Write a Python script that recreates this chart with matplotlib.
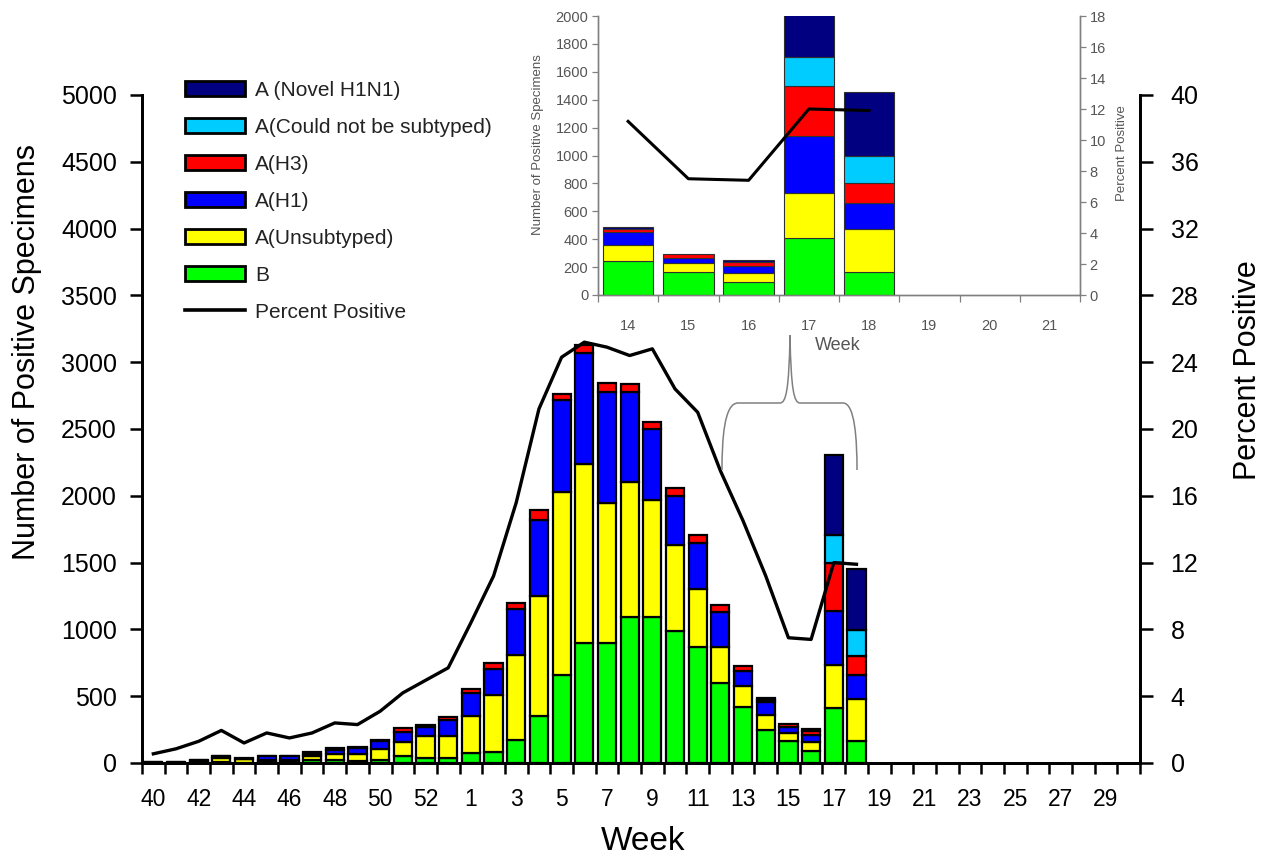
import numpy as np
import matplotlib
matplotlib.use("Agg")
import matplotlib.pyplot as plt
from matplotlib.patches import Patch, PathPatch
from matplotlib.lines import Line2D
from matplotlib.path import Path

plt.rcParams["font.family"] = ["Liberation Sans", "DejaVu Sans"]

# Weeks 40-53 of 2008, then weeks 1-30 of 2009
weeks = list(range(40, 54)) + list(range(1, 31))

# Number of positive specimens, weeks 40 .. 18 (later weeks not reported yet)
flu_b = [1, 1, 3, 5, 3, 5, 5, 20, 25, 15, 20, 50, 35, 35,
         75, 85, 175, 355, 660, 900, 895, 1095, 1095, 990, 870, 600, 420, 246, 162, 93, 409, 162]
a_unsub = [3, 3, 12, 30, 25, 20, 20, 30, 45, 55, 85, 110, 165, 170,
           275, 425, 630, 895, 1365, 1335, 1050, 1010, 875, 640, 430, 270, 160, 112, 65, 67, 325, 314]
a_h1 = [1, 2, 8, 15, 5, 25, 25, 20, 30, 40, 60, 75, 70, 120,
        175, 195, 350, 570, 690, 835, 830, 675, 530, 370, 350, 260, 110, 96, 41, 50, 403, 181]
a_h3 = [0, 0, 2, 5, 2, 5, 5, 10, 10, 10, 10, 25, 15, 20,
        30, 40, 40, 70, 45, 60, 70, 60, 50, 60, 60, 50, 35, 19, 26, 29, 361, 143]
a_cns = [0] * 30 + [210, 199]
a_novel = [0] * 27 + [17, 0, 12, 597, 454]

# Percent positive
pct_positive = [0.55, 0.85, 1.3, 1.95, 1.2, 1.8, 1.5, 1.8, 2.4, 2.3, 3.1, 4.2, 4.95, 5.7,
                8.4, 11.2, 15.6, 21.2, 24.3, 25.2, 24.9, 24.4, 24.8, 22.4, 21.0, 17.5, 14.5,
                11.2, 7.5, 7.4, 12.0, 11.9]

# Inset: weeks 14-21
inset_weeks = [14, 15, 16, 17, 18, 19, 20, 21]

series = [
    ("B", flu_b, "#00FF00"),
    ("A(Unsubtyped)", a_unsub, "#FFFF00"),
    ("A(H1)", a_h1, "#0000FF"),
    ("A(H3)", a_h3, "#FF0000"),
    ("A(Could not be subtyped)", a_cns, "#00CCFF"),
    ("A (Novel H1N1)", a_novel, "#000080"),
]

n_rep = len(flu_b)
x = np.arange(len(weeks))

fig = plt.figure(figsize=(12.8, 8.56), dpi=100)

# ---------------- main chart ----------------
ax = fig.add_axes([142 / 1280, 93 / 856, 998 / 1280, 668 / 856])
ax2 = ax.twinx()

bottom = np.zeros(n_rep)
for name, vals, col in series:
    vals = np.array(vals, dtype=float)
    m = vals > 0
    ax.bar(x[:n_rep][m], vals[m], bottom=bottom[m], width=0.8,
           color=col, edgecolor="black", linewidth=1.6, zorder=3)
    bottom += vals

ax2.plot(x[:n_rep], pct_positive, color="black", linewidth=2.4, zorder=4)

ax.set_xlim(-0.5, len(weeks) - 0.5)
ax.set_ylim(0, 5000)
ax.set_yticks(np.arange(0, 5001, 500))
ax2.set_ylim(0, 40)
ax2.set_yticks(np.arange(0, 41, 4))

ax.set_xticks(np.arange(-0.5, len(weeks), 1))
ax.set_xticklabels([])
ax.set_xticks(x[::2], [str(w) for w in weeks[::2]], minor=True)
ax.tick_params(axis="x", which="major", direction="out", length=8, width=1.8)
ax.tick_params(axis="x", which="minor", length=0, pad=18, labelsize=16.5)
ax.tick_params(axis="y", direction="out", length=9, width=1.8, labelsize=18, pad=9)
ax2.tick_params(axis="y", direction="out", length=9, width=1.8, labelsize=18, pad=13)

for a in (ax, ax2):
    a.spines["top"].set_visible(False)
    for s in ("left", "right", "bottom"):
        a.spines[s].set_linewidth(2)

ax.set_ylabel("Number of Positive Specimens", fontsize=22)
ax.yaxis.set_label_coords(-0.10, 0.615)
ax2.set_ylabel("Percent Positive", fontsize=22)
ax2.yaxis.set_label_coords(1.093, 0.588)
ax.set_xlabel("Week", fontsize=24)
ax.xaxis.set_label_coords(0.502, -0.094)

handles = [Patch(facecolor=col, edgecolor="black", linewidth=2) for _, _, col in series[::-1]]
handles.append(Line2D([0], [0], color="black", linewidth=2.6))
labels = [name for name, _, _ in series[::-1]] + ["Percent Positive"]
fig.legend(handles, labels, loc="upper left", bbox_to_anchor=(185 / 1280, 1 - 81 / 856),
           frameon=False, fontsize=15, handlelength=2.9, handleheight=0.75,
           handletextpad=0.45, labelspacing=0.86, borderpad=0, borderaxespad=0,
           labelcolor="#222222")

# ---------------- inset ----------------
axi = fig.add_axes([598 / 1280, 561 / 856, 482 / 1280, 279 / 856])
axi2 = axi.twinx()
xi = np.arange(len(inset_weeks))
i0 = weeks.index(inset_weeks[0])
n_in = n_rep - i0

bottom = np.zeros(n_in)
for name, vals, col in series:
    vals = np.array(vals[i0:], dtype=float)
    m = vals > 0
    axi.bar(xi[:n_in][m], vals[m], bottom=bottom[m], width=0.84,
            color=col, edgecolor="#303030", linewidth=0.8, zorder=3)
    bottom += vals

axi2.plot(xi[:n_in], pct_positive[i0:], color="black", linewidth=2.2, zorder=4)

axi.set_xlim(-0.5, len(inset_weeks) - 0.5)
axi.set_ylim(0, 2000)
axi.set_yticks(np.arange(0, 2001, 200))
axi2.set_ylim(0, 18)
axi2.set_yticks(np.arange(0, 19, 2))
axi.set_xticks(np.arange(-0.5, len(inset_weeks), 1))
axi.set_xticklabels([])
axi.set_xticks(xi, [str(w) for w in inset_weeks], minor=True)

gray = "#555555"
axi.tick_params(axis="x", which="major", direction="out", length=5, width=0.9, color="#808080")
axi.tick_params(axis="x", which="minor", length=0, pad=17, labelsize=10.5, labelcolor=gray)
axi.tick_params(axis="y", direction="out", length=4, width=0.9, color="#808080",
                labelsize=10.5, labelcolor=gray, pad=3)
axi2.tick_params(axis="y", direction="out", length=4, width=0.9, color="#808080",
                 labelsize=10.5, labelcolor=gray, pad=3)
for a in (axi, axi2):
    a.spines["top"].set_visible(False)
    for s in ("left", "right", "bottom"):
        a.spines[s].set_color("#808080")
        a.spines[s].set_linewidth(1)
    a.set_facecolor("none")

axi.set_ylabel("Number of Positive Specimens", fontsize=9.5, color=gray)
axi.yaxis.set_label_coords(-0.112, 0.54)
axi2.set_ylabel("Percent Positive", fontsize=9.5, color=gray)
axi2.yaxis.set_label_coords(1.075, 0.51)
axi.set_xlabel("Week", fontsize=13, color=gray)
axi.xaxis.set_label_coords(0.498, -0.15)

# brace linking the inset to weeks 14-18
def px(p):
    return (p[0] / 1280, 1 - p[1] / 856)

brace = [(722, 470), (722, 440), (724, 403), (738, 403), (780, 403),
         (786, 403), (789, 390), (790, 335), (791, 390), (794, 403), (800, 403),
         (843, 403), (855, 403), (857, 440), (857, 470)]
codes = [Path.MOVETO, Path.CURVE4, Path.CURVE4, Path.CURVE4, Path.LINETO,
         Path.CURVE4, Path.CURVE4, Path.CURVE4, Path.CURVE4, Path.CURVE4, Path.CURVE4,
         Path.LINETO, Path.CURVE4, Path.CURVE4, Path.CURVE4]
fig.add_artist(PathPatch(Path([px(p) for p in brace], codes), transform=fig.transFigure,
                         facecolor="none", edgecolor="#808080", linewidth=1.1))

fig.savefig("out.png", dpi=100)
